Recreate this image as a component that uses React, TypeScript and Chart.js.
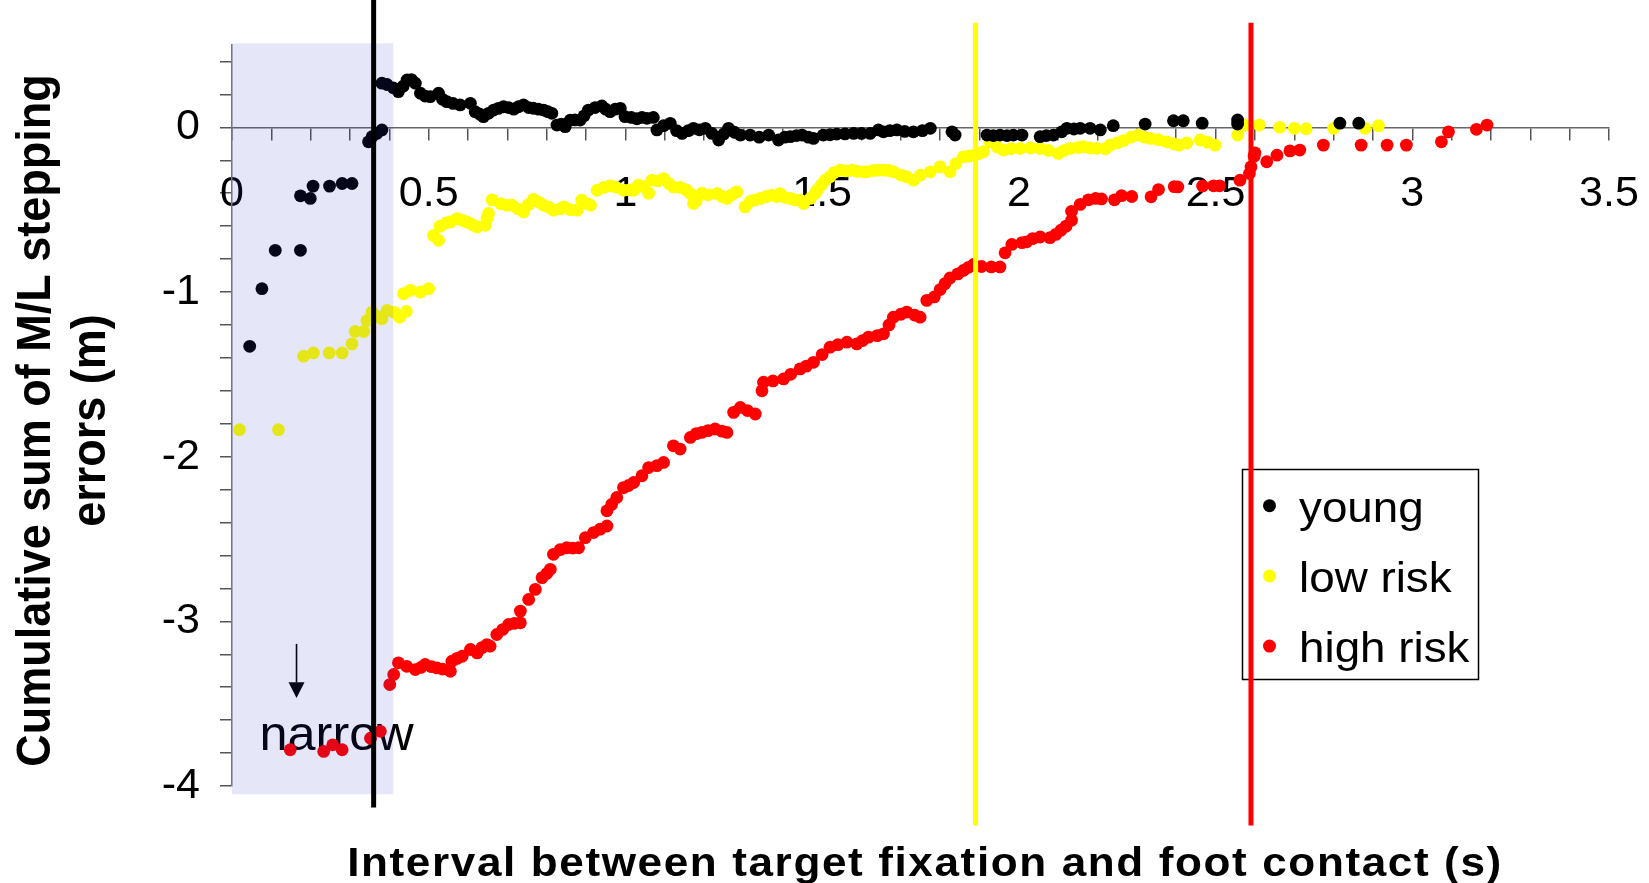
import React, { useEffect, useRef } from 'react';
import { Chart, registerables } from 'chart.js';

Chart.register(...registerables);

const FONT = '"Liberation Sans", Arial, Helvetica, sans-serif';

// Cumulative sum of medio-lateral stepping errors (m) against the interval (s)
// between target fixation and foot contact, one series per group.
const youngX = [
  0.045, 0.076, 0.110, 0.174, 0.174, 0.199, 0.206, 0.248, 0.280, 0.305,
  0.347, 0.356, 0.368, 0.381, 0.381, 0.394, 0.410, 0.423, 0.435, 0.445,
  0.456, 0.466, 0.479, 0.491, 0.504, 0.525, 0.535, 0.546, 0.562, 0.580,
  0.606, 0.618, 0.630, 0.639, 0.652, 0.665, 0.677, 0.690, 0.703, 0.716,
  0.728, 0.741, 0.754, 0.766, 0.779, 0.792, 0.803, 0.813, 0.826, 0.837,
  0.847, 0.860, 0.872, 0.885, 0.895, 0.906, 0.923, 0.940, 0.950, 0.961,
  0.974, 0.987, 0.999, 1.015, 1.029, 1.042, 1.055, 1.071, 1.080, 1.097,
  1.114, 1.130, 1.144, 1.160, 1.173, 1.188, 1.203, 1.220, 1.237, 1.250,
  1.262, 1.277, 1.292, 1.317, 1.340, 1.364, 1.389, 1.405, 1.419, 1.435,
  1.449, 1.465, 1.478, 1.503, 1.520, 1.537, 1.558, 1.580, 1.600, 1.622,
  1.643, 1.656, 1.672, 1.690, 1.710, 1.732, 1.755, 1.775, 1.830, 1.838,
  1.919, 1.935, 1.952, 1.970, 1.986, 2.008, 2.054, 2.070, 2.088, 2.109,
  2.122, 2.140, 2.156, 2.181, 2.207, 2.240, 2.321, 2.393, 2.418, 2.466,
  2.556, 2.556, 2.816, 2.864,
];
const youngY = [
  -1.330, -0.980, -0.747, -0.747, -0.416, -0.432, -0.357, -0.357, -0.341, -0.341,
  -0.088, -0.057, -0.037, -0.016, 0.268, 0.260, 0.240, 0.217, 0.250, 0.288,
  0.290, 0.268, 0.207, 0.190, 0.186, 0.207, 0.170, 0.156, 0.145, 0.136,
  0.146, 0.095, 0.080, 0.065, 0.085, 0.105, 0.115, 0.125, 0.120, 0.110,
  0.125, 0.136, 0.120, 0.116, 0.110, 0.105, 0.095, 0.085, 0.014, 0.020,
  0.004, 0.044, 0.045, 0.044, 0.070, 0.105, 0.120, 0.130, 0.110, 0.095,
  0.110, 0.115, 0.065, 0.060, 0.052, 0.060, 0.055, 0.060, -0.016, 0.010,
  0.024, -0.020, -0.037, -0.020, -0.006, -0.015, -0.006, -0.037, -0.077, -0.040,
  -0.006, -0.030, -0.047, -0.047, -0.060, -0.047, -0.077, -0.060, -0.057, -0.050,
  -0.047, -0.060, -0.067, -0.047, -0.045, -0.041, -0.040, -0.037, -0.037, -0.037,
  -0.016, -0.027, -0.020, -0.016, -0.025, -0.027, -0.020, -0.006, -0.027, -0.047,
  -0.047, -0.050, -0.047, -0.050, -0.047, -0.047, -0.057, -0.050, -0.047, -0.027,
  -0.006, -0.010, -0.006, -0.006, -0.016, 0.010, 0.020, 0.040, 0.040, 0.025,
  0.045, 0.020, 0.025, 0.025,
];

const lowRiskX = [
  0.019, 0.118, 0.182, 0.207, 0.247, 0.280, 0.305, 0.313, 0.335, 0.343,
  0.356, 0.370, 0.381, 0.394, 0.411, 0.426, 0.436, 0.443, 0.453, 0.479,
  0.500, 0.512, 0.525, 0.529, 0.545, 0.555, 0.572, 0.585, 0.597, 0.610,
  0.623, 0.644, 0.648, 0.652, 0.661, 0.682, 0.699, 0.712, 0.726, 0.741,
  0.753, 0.766, 0.780, 0.792, 0.805, 0.817, 0.834, 0.843, 0.860, 0.877,
  0.889, 0.902, 0.911, 0.928, 0.945, 0.961, 0.975, 0.995, 1.010, 1.021,
  1.033, 1.047, 1.059, 1.067, 1.082, 1.097, 1.110, 1.122, 1.139, 1.155,
  1.165, 1.173, 1.180, 1.194, 1.210, 1.233, 1.245, 1.258, 1.270, 1.283,
  1.304, 1.317, 1.330, 1.343, 1.358, 1.372, 1.385, 1.393, 1.405, 1.419,
  1.430, 1.444, 1.453, 1.470, 1.482, 1.487, 1.498, 1.508, 1.520, 1.530,
  1.546, 1.560, 1.576, 1.590, 1.605, 1.614, 1.630, 1.643, 1.656, 1.670,
  1.681, 1.700, 1.715, 1.732, 1.750, 1.775, 1.800, 1.825, 1.840, 1.859,
  1.872, 1.885, 1.897, 1.910, 1.927, 1.945, 1.961, 1.980, 2.003, 2.030,
  2.054, 2.075, 2.100, 2.115, 2.130, 2.150, 2.164, 2.180, 2.198, 2.220,
  2.232, 2.250, 2.266, 2.285, 2.304, 2.320, 2.334, 2.355, 2.376, 2.394,
  2.407, 2.427, 2.461, 2.480, 2.499, 2.556, 2.575, 2.611, 2.663, 2.700,
  2.730, 2.800, 2.880, 2.914,
];
const lowRiskY = [
  -1.836, -1.836, -1.390, -1.370, -1.370, -1.370, -1.315, -1.240, -1.240, -1.173,
  -1.122, -1.150, -1.163, -1.112, -1.122, -1.153, -1.010, -1.118, -0.990, -1.000,
  -0.980, -0.656, -0.686, -0.600, -0.580, -0.574, -0.554, -0.565, -0.574, -0.590,
  -0.605, -0.595, -0.554, -0.523, -0.440, -0.463, -0.473, -0.473, -0.495, -0.514,
  -0.470, -0.437, -0.455, -0.473, -0.485, -0.503, -0.495, -0.483, -0.500, -0.503,
  -0.442, -0.463, -0.473, -0.382, -0.365, -0.355, -0.362, -0.382, -0.380, -0.382,
  -0.351, -0.360, -0.400, -0.321, -0.325, -0.311, -0.341, -0.362, -0.365, -0.380,
  -0.402, -0.463, -0.445, -0.400, -0.410, -0.402, -0.420, -0.432, -0.410, -0.392,
  -0.483, -0.450, -0.440, -0.432, -0.420, -0.412, -0.420, -0.402, -0.425, -0.432,
  -0.440, -0.442, -0.463, -0.432, -0.402, -0.382, -0.350, -0.321, -0.300, -0.275,
  -0.260, -0.265, -0.260, -0.268, -0.270, -0.270, -0.262, -0.260, -0.260, -0.262,
  -0.270, -0.290, -0.300, -0.321, -0.290, -0.270, -0.240, -0.270, -0.220, -0.179,
  -0.175, -0.169, -0.160, -0.148, -0.088, -0.120, -0.138, -0.130, -0.128, -0.125,
  -0.128, -0.140, -0.158, -0.140, -0.128, -0.122, -0.118, -0.125, -0.128, -0.130,
  -0.108, -0.095, -0.081, -0.060, -0.047, -0.060, -0.067, -0.075, -0.088, -0.100,
  -0.108, -0.095, -0.077, -0.090, -0.108, -0.047, 0.014, 0.014, 0.000, -0.006,
  -0.008, -0.006, -0.006, 0.010,
];

const highRiskX = [
  0.148, 0.233, 0.256, 0.280, 0.352, 0.377, 0.401, 0.411, 0.423, 0.444,
  0.466, 0.480, 0.491, 0.507, 0.521, 0.535, 0.555, 0.559, 0.572, 0.585,
  0.606, 0.623, 0.635, 0.648, 0.656, 0.673, 0.688, 0.703, 0.718, 0.733,
  0.733, 0.754, 0.771, 0.788, 0.800, 0.809, 0.817, 0.834, 0.851, 0.866,
  0.881, 0.898, 0.919, 0.936, 0.953, 0.953, 0.965, 0.978, 0.995, 1.008,
  1.021, 1.042, 1.059, 1.080, 1.097, 1.122, 1.139, 1.165, 1.180, 1.194,
  1.210, 1.228, 1.245, 1.258, 1.275, 1.292, 1.310, 1.330, 1.347, 1.351,
  1.375, 1.402, 1.420, 1.444, 1.460, 1.478, 1.500, 1.520, 1.540, 1.563,
  1.588, 1.603, 1.618, 1.640, 1.656, 1.670, 1.681, 1.700, 1.715, 1.735,
  1.749, 1.766, 1.785, 1.800, 1.812, 1.825, 1.845, 1.859, 1.872, 1.885,
  1.905, 1.930, 1.952, 1.965, 1.982, 2.008, 2.020, 2.035, 2.054, 2.079,
  2.094, 2.107, 2.120, 2.134, 2.134, 2.156, 2.177, 2.195, 2.210, 2.243,
  2.261, 2.287, 2.336, 2.355, 2.395, 2.404, 2.467, 2.495, 2.510, 2.562,
  2.586, 2.590, 2.598, 2.600, 2.630, 2.656, 2.689, 2.714, 2.774, 2.870,
  2.936, 2.985, 3.074, 3.092, 3.163, 3.190,
];
const highRiskY = [
  -3.780, -3.790, -3.750, -3.780, -3.710, -3.668, -3.384, -3.323, -3.252, -3.273,
  -3.293, -3.280, -3.262, -3.275, -3.283, -3.290, -3.303, -3.242, -3.225, -3.212,
  -3.171, -3.192, -3.160, -3.141, -3.151, -3.080, -3.050, -3.019, -3.012, -3.009,
  -2.938, -2.867, -2.806, -2.735, -2.710, -2.684, -2.593, -2.565, -2.553, -2.555,
  -2.553, -2.492, -2.461, -2.440, -2.421, -2.329, -2.290, -2.248, -2.188, -2.175,
  -2.157, -2.116, -2.066, -2.055, -2.035, -1.934, -1.954, -1.883, -1.860, -1.853,
  -1.842, -1.832, -1.845, -1.853, -1.731, -1.701, -1.720, -1.741, -1.600, -1.548,
  -1.540, -1.528, -1.500, -1.467, -1.450, -1.427, -1.380, -1.335, -1.320, -1.305,
  -1.315, -1.295, -1.274, -1.265, -1.254, -1.200, -1.153, -1.135, -1.122, -1.140,
  -1.153, -1.051, -1.030, -0.985, -0.950, -0.915, -0.890, -0.869, -0.850, -0.833,
  -0.845, -0.848, -0.848, -0.762, -0.711, -0.700, -0.695, -0.676, -0.666, -0.670,
  -0.650, -0.625, -0.600, -0.564, -0.510, -0.468, -0.440, -0.432, -0.435, -0.440,
  -0.415, -0.420, -0.422, -0.378, -0.360, -0.362, -0.356, -0.355, -0.355, -0.321,
  -0.280, -0.240, -0.175, -0.155, -0.209, -0.169, -0.143, -0.138, -0.108, -0.108,
  -0.108, -0.108, -0.088, -0.027, -0.012, 0.014,
];

const seriesNames = ['young', 'low risk', 'high risk'];
const seriesColors = ['#000000', '#ffff00', '#ff0000'];

// Time at which each group's curve levels off (vertical markers)
const levelOffTimes = [0.36, 1.89, 2.59];
// Vertical extent of each marker line, in axis units
const levelOffSpans = [
  [0.775, -4.13],
  [0.635, -4.24],
  [0.635, -4.24],
];

// Shaded "narrow" window
const windowX = [0, 0.41];
const windowY = [0.51, -4.05];
const windowFill = 'rgba(40, 50, 200, 0.12)';

// Annotation arrow and label
const arrowX = 0.164;
const arrowYs = [-3.137, -3.37, -3.466];
const noteText = 'narrow';
const noteAt = [0.07, -3.78];

const xTitle = 'Interval between target fixation and foot contact (s)';
const yTitleLines = ['Cumulative sum of M/L stepping', 'errors (m)'];

const toPoints = (xs: number[], ys: number[]) => xs.map((x, i) => ({ x, y: ys[i] }));

function stretchedText(
  ctx: CanvasRenderingContext2D,
  text: string,
  x: number,
  y: number,
  sx: number,
) {
  ctx.save();
  ctx.translate(x, y);
  ctx.scale(sx, 1);
  ctx.fillText(text, 0, 0);
  ctx.restore();
}

const decorPlugin = {
  id: 'decor',
  beforeDatasetsDraw(chart: any) {
    const { ctx, scales } = chart;
    const xs = scales.x;
    const ys = scales.y;
    ctx.save();
    ctx.fillStyle = '#000';
    ctx.strokeStyle = '#000';
    ctx.lineWidth = 1.6;
    const ax = xs.getPixelForValue(arrowX);
    const [y0, y1, y2] = arrowYs.map((v) => ys.getPixelForValue(v));
    ctx.beginPath();
    ctx.moveTo(ax, y0);
    ctx.lineTo(ax, y1);
    ctx.stroke();
    ctx.beginPath();
    ctx.moveTo(ax - 8, y1);
    ctx.lineTo(ax + 8, y1);
    ctx.lineTo(ax, y2);
    ctx.closePath();
    ctx.fill();
    ctx.font = `48px ${FONT}`;
    ctx.textAlign = 'left';
    ctx.textBaseline = 'alphabetic';
    stretchedText(ctx, noteText, xs.getPixelForValue(noteAt[0]), ys.getPixelForValue(noteAt[1]), 1.05);
    ctx.restore();
  },
  afterDatasetsDraw(chart: any) {
    const { ctx, scales } = chart;
    const xs = scales.x;
    const ys = scales.y;
    ctx.save();

    // translucent band over the narrow window
    const bx0 = xs.getPixelForValue(windowX[0]);
    const bx1 = xs.getPixelForValue(windowX[1]);
    const by0 = ys.getPixelForValue(windowY[0]);
    const by1 = ys.getPixelForValue(windowY[1]);
    ctx.fillStyle = windowFill;
    ctx.fillRect(bx0, by0, bx1 - bx0, by1 - by0);

    // legend box
    const lx = 1242.5;
    const ly = 469.5;
    ctx.fillStyle = '#ffffff';
    ctx.fillRect(lx, ly, 236, 210);
    ctx.strokeStyle = '#000';
    ctx.lineWidth = 1.5;
    ctx.strokeRect(lx, ly, 236, 210);
    ctx.font = `42px ${FONT}`;
    ctx.textAlign = 'left';
    ctx.textBaseline = 'alphabetic';
    seriesNames.forEach((name, i) => {
      const cy = 505.7 + i * 70.2;
      ctx.fillStyle = seriesColors[i];
      ctx.beginPath();
      ctx.arc(1269.5, cy, 6.5, 0, Math.PI * 2);
      ctx.fill();
      ctx.fillStyle = '#000';
      stretchedText(ctx, name, 1299, cy + 16, 1.09);
    });

    // vertical level-off markers
    ctx.lineWidth = 5;
    levelOffTimes.forEach((t, i) => {
      const px = xs.getPixelForValue(t);
      ctx.strokeStyle = seriesColors[i];
      ctx.beginPath();
      ctx.moveTo(px, ys.getPixelForValue(levelOffSpans[i][0]));
      ctx.lineTo(px, ys.getPixelForValue(levelOffSpans[i][1]));
      ctx.stroke();
    });

    // axis titles
    ctx.fillStyle = '#000';
    ctx.font = `bold 41px ${FONT}`;
    ctx.textAlign = 'center';
    ctx.textBaseline = 'alphabetic';
    (ctx as any).letterSpacing = '1.5px';
    stretchedText(ctx, xTitle, 925, 876, 1.075);
    (ctx as any).letterSpacing = '0px';

    ctx.font = `bold 45px ${FONT}`;
    const baselines = [50, 105];
    yTitleLines.forEach((line, i) => {
      ctx.save();
      ctx.translate(baselines[i], 420.5);
      ctx.rotate(-Math.PI / 2);
      ctx.scale(1, 1.05);
      ctx.fillText(line, 0, 0);
      ctx.restore();
    });

    ctx.restore();
  },
};

export default function App() {
  const canvasRef = useRef<HTMLCanvasElement>(null);

  useEffect(() => {
    document.body.style.margin = '0';
    const canvas = canvasRef.current;
    if (!canvas) return;

    const datasets = [
      toPoints(youngX, youngY),
      toPoints(lowRiskX, lowRiskY),
      toPoints(highRiskX, highRiskY),
    ].map((data, i) => ({
      label: seriesNames[i],
      data,
      backgroundColor: seriesColors[i],
      borderColor: seriesColors[i],
      borderWidth: 0,
      pointRadius: 6.4,
      pointHoverRadius: 6.4,
      showLine: false,
    }));

    const tickFont = { family: FONT, size: 43 };

    const chart = new Chart(canvas, {
      type: 'scatter',
      data: { datasets },
      options: {
        animation: false,
        responsive: false,
        devicePixelRatio: 1,
        events: [],
        layout: { padding: { left: 0, top: 45, right: 40, bottom: 97 } },
        plugins: {
          legend: { display: false },
          tooltip: { enabled: false },
        },
        scales: {
          x: {
            type: 'linear',
            min: 0,
            max: 3.5,
            position: { y: 0 },
            afterFit: (scale: any) => {
              scale.paddingLeft = 0;
              scale.paddingRight = 0;
            },
            grid: {
              drawOnChartArea: false,
              drawTicks: true,
              tickLength: 12,
              color: '#555',
              lineWidth: 1.5,
            },
            border: { display: true, color: '#666', width: 1.5 },
            ticks: {
              stepSize: 0.1,
              autoSkip: false,
              maxRotation: 0,
              minRotation: 0,
              padding: 29,
              color: '#000',
              font: tickFont,
              callback: (v: any) => {
                const t = Math.round(Number(v) * 10);
                return t % 5 === 0 ? String(t / 10) : '';
              },
            },
          },
          y: {
            type: 'linear',
            min: -4,
            max: 0.5,
            position: 'left',
            afterFit: (scale: any) => {
              scale.width = 232;
              scale.paddingTop = 0;
              scale.paddingBottom = 0;
            },
            grid: {
              drawOnChartArea: false,
              drawTicks: true,
              tickLength: 12,
              color: '#555',
              lineWidth: 1.5,
            },
            border: { display: true, color: '#777', width: 1.5 },
            ticks: {
              stepSize: 0.2,
              includeBounds: false,
              autoSkip: false,
              padding: 20,
              color: '#000',
              font: tickFont,
              callback: (v: any) => {
                const t = Math.round(Number(v) * 10);
                return t % 10 === 0 ? String(t / 10) : '';
              },
            },
          },
        },
      } as any,
      plugins: [decorPlugin],
    });

    return () => chart.destroy();
  }, []);

  return (
    <div style={{ width: 1649, height: 883, background: '#ffffff' }}>
      <canvas
        ref={canvasRef}
        width={1649}
        height={883}
        style={{ display: 'block', width: 1649, height: 883 }}
      />
    </div>
  );
}
